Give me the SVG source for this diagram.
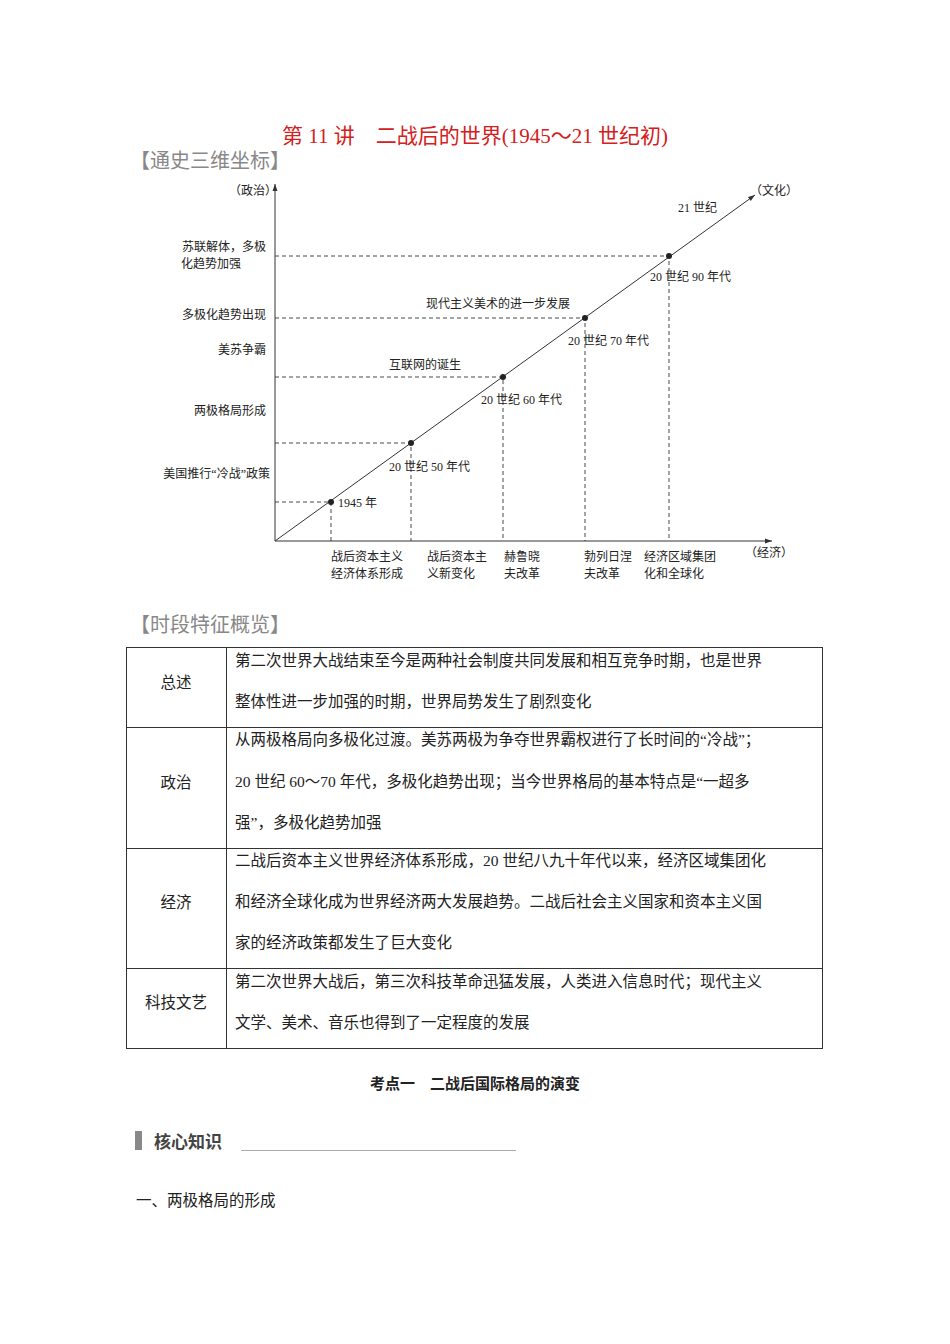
<svg xmlns="http://www.w3.org/2000/svg" width="950" height="1344" viewBox="0 0 950 1344">
<style>
text{font-family:"Liberation Serif","Noto Sans CJK SC",serif;fill:#222}
.s{font-size:12px}
.t{font-size:15.5px}
.d{stroke:#333;stroke-width:0.9;stroke-dasharray:4 3;fill:none}
.a{stroke:#333;stroke-width:1;fill:none}
.g{fill:#888;font-size:20px}
</style>
<defs><marker id="ar" markerWidth="8" markerHeight="8" refX="7" refY="4" orient="auto" markerUnits="userSpaceOnUse"><path d="M0,1.5 L7,4 L0,6.5z" fill="#333"/></marker></defs>
<rect width="950" height="1344" fill="#fff"/>
<text x="475" y="143" text-anchor="middle" style="font-size:21px;fill:#d42020">第 11 讲　二战后的世界(1945～21 世纪初)</text>
<text x="130" y="168" class="g">【通史三维坐标】</text>
<g id="connectors">
<line class="a" x1="275" y1="541" x2="275" y2="184" marker-end="url(#ar)"/>
<line class="a" x1="275" y1="541" x2="772" y2="541" marker-end="url(#ar)"/>
<line class="a" x1="275" y1="541" x2="755" y2="195" marker-end="url(#ar)"/>
<path class="d" d="M275,502H331V541M275,443H411V541M275,377H503V541M275,318H585V541M275,256H669V541"/>
</g>
<g id="points" fill="#222">
<circle cx="331" cy="502" r="3"/><circle cx="411" cy="443" r="3"/><circle cx="503" cy="377" r="3"/><circle cx="585" cy="318" r="3"/><circle cx="669" cy="256" r="3"/>
</g>
<g id="labels" class="s">
<text x="229" y="195" class="s">（政治）</text>
<text x="750" y="195" class="s">（文化）</text>
<text x="745" y="557" class="s">（经济）</text>
<text x="678" y="212" class="s">21 世纪</text>
<text x="650" y="281" class="s">20 世纪 90 年代</text>
<text x="426" y="308" class="s">现代主义美术的进一步发展</text>
<text x="568" y="345" class="s">20 世纪 70 年代</text>
<text x="389" y="369" class="s">互联网的诞生</text>
<text x="481" y="404" class="s">20 世纪 60 年代</text>
<text x="389" y="471" class="s">20 世纪 50 年代</text>
<text x="338" y="507" class="s">1945 年</text>
<g text-anchor="end">
<text x="266" y="251" class="s">苏联解体，多极</text>
<text x="241" y="268" class="s">化趋势加强</text>
<text x="266" y="319" class="s">多极化趋势出现</text>
<text x="266" y="354" class="s">美苏争霸</text>
<text x="266" y="415" class="s">两极格局形成</text>
<text x="270" y="478" class="s">美国推行“冷战”政策</text>
</g>
<text x="331" y="561" class="s">战后资本主义</text><text x="331" y="578" class="s">经济体系形成</text>
<text x="427" y="561" class="s">战后资本主</text><text x="427" y="578" class="s">义新变化</text>
<text x="504" y="561" class="s">赫鲁晓</text><text x="504" y="578" class="s">夫改革</text>
<text x="584" y="561" class="s">勃列日涅</text><text x="584" y="578" class="s">夫改革</text>
<text x="644" y="561" class="s">经济区域集团</text><text x="644" y="578" class="s">化和全球化</text>
</g>
<text x="130" y="632" class="g">【时段特征概览】</text>
<g id="table">
<rect x="126.5" y="647.5" width="696" height="401" fill="none" stroke="#333" stroke-width="1"/>
<path d="M226.5,647.5V1048.5M126.5,727.5H822.5M126.5,848.5H822.5M126.5,968.5H822.5" stroke="#333" stroke-width="1"/>
<text x="176" y="688" class="t" text-anchor="middle">总述</text>
<text x="176" y="788" class="t" text-anchor="middle">政治</text>
<text x="176" y="908" class="t" text-anchor="middle">经济</text>
<text x="176" y="1008" class="t" text-anchor="middle">科技文艺</text>
<text x="235" y="666" class="t">第二次世界大战结束至今是两种社会制度共同发展和相互竞争时期，也是世界</text>
<text x="235" y="707" class="t">整体性进一步加强的时期，世界局势发生了剧烈变化</text>
<text x="235" y="745" class="t">从两极格局向多极化过渡。美苏两极为争夺世界霸权进行了长时间的“冷战”；</text>
<text x="235" y="787" class="t">20 世纪 60～70 年代，多极化趋势出现；当今世界格局的基本特点是“一超多</text>
<text x="235" y="828" class="t">强”，多极化趋势加强</text>
<text x="235" y="866" class="t">二战后资本主义世界经济体系形成，20 世纪八九十年代以来，经济区域集团化</text>
<text x="235" y="907" class="t">和经济全球化成为世界经济两大发展趋势。二战后社会主义国家和资本主义国</text>
<text x="235" y="948" class="t">家的经济政策都发生了巨大变化</text>
<text x="235" y="987" class="t">第二次世界大战后，第三次科技革命迅猛发展，人类进入信息时代；现代主义</text>
<text x="235" y="1028" class="t">文学、美术、音乐也得到了一定程度的发展</text>
</g>
<text x="475" y="1089" text-anchor="middle" style="font-size:15px;font-weight:bold">考点一　二战后国际格局的演变</text>
<rect x="135" y="1131" width="7" height="19" fill="#888"/>
<text x="154" y="1148" style="font-size:17px;font-weight:bold;fill:#444">核心知识</text>
<line x1="241" y1="1150.5" x2="516" y2="1150.5" stroke="#aaa" stroke-width="1"/>
<text x="136" y="1206" style="font-size:15.5px">一、两极格局的形成</text>
</svg>
